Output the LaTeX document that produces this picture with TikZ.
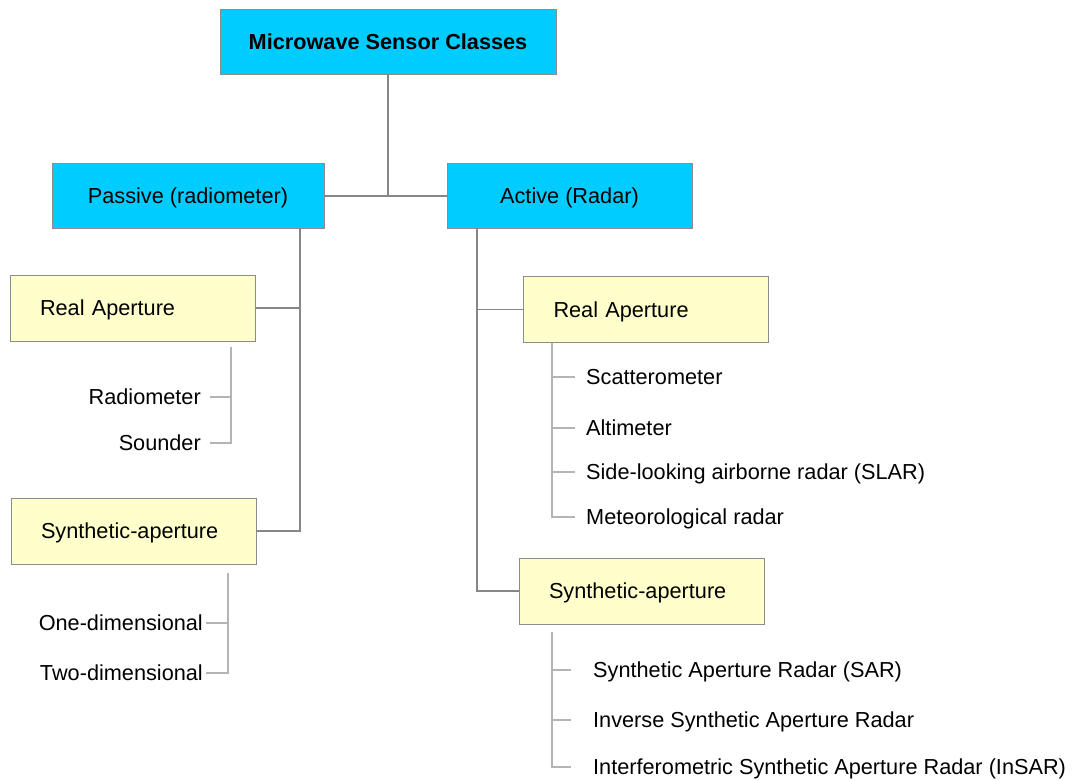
\documentclass[tikz,border=0pt]{standalone}
\usepackage{fontspec}
\setmainfont{Liberation Sans}
\usetikzlibrary{positioning}

\definecolor{boxblue}{RGB}{0,204,255}
\definecolor{boxyellow}{RGB}{255,255,204}
\definecolor{boxedge}{RGB}{140,140,140}
\definecolor{linkgray}{RGB}{135,135,135}
\definecolor{twiggray}{RGB}{180,180,180}

\begin{document}
\begin{tikzpicture}[x=1pt, y=-1pt,
    txt/.style={font=\fontsize{21.7}{26}\selectfont, text height=15.5pt, text depth=0pt},
    classbox/.style={txt, draw=boxedge, fill=boxblue, minimum height=65pt, inner sep=0pt},
    apbox/.style={txt, draw=boxedge, fill=boxyellow, minimum height=66pt, text width=185pt, inner xsep=30pt, inner ysep=0pt, align=left},
    item/.style={txt, inner sep=0pt},
    link/.style={draw=linkgray, line width=1.3pt},
    twig/.style={draw=twiggray, line width=1.1pt}
  ]
  \useasboundingbox (0,0) rectangle (1078,780);

  % Top level
  \node[classbox, minimum width=336pt, font=\fontsize{21.7}{26}\selectfont\bfseries] (top) at (388,41.5) {Microwave Sensor Classes};
  \node[classbox, minimum width=272pt] (passive) at (188,196) {Passive (radiometer)};
  \node[classbox, minimum width=245pt] (active) at (569.5,196) {Active (Radar)};
  \draw[link] (top.south) -- (top.south |- passive.east);
  \draw[link] (passive.east) -- (active.west);

  % Passive branch
  \node[apbox] (lra) at (132.5,308) {Real Aperture};
  \node[apbox] (lsa) at (133.5,531) {Synthetic-aperture};
  \coordinate (ptrunk) at (300,0);
  \draw[link] (passive.south -| ptrunk) -- (ptrunk |- lsa.east) -- (lsa.east);
  \draw[link] (lra.east) -- (lra.east -| ptrunk);

  \node[item, anchor=east] (radio) at (201,397) {Radiometer};
  \node[item, anchor=east] (sounder) at (201,443) {Sounder};
  \coordinate (lrabr) at (231,347);
  \draw[twig] (lrabr) |- ([xshift=9pt]sounder.east);
  \draw[twig] ([xshift=9pt]radio.east) -- (radio.east -| lrabr);

  \node[item, anchor=east] (onedim) at (203,623) {One-dimensional};
  \node[item, anchor=east] (twodim) at (203,673) {Two-dimensional};
  \coordinate (lsabr) at (228,573);
  \draw[twig] (lsabr) |- ([xshift=3pt]twodim.east);
  \draw[twig] ([xshift=3pt]onedim.east) -- (onedim.east -| lsabr);

  % Active branch
  \node[apbox] (rra) at (646,309.5) {Real Aperture};
  \node[apbox] (rsa) at (641.5,591) {Synthetic-aperture};
  \coordinate (atrunk) at (477,0);
  \draw[link] (active.south -| atrunk) -- (atrunk |- rsa.west) -- (rsa.west);
  \draw[link] (atrunk |- rra.west) -- (rra.west);

  \node[item, anchor=west] (scat) at (586,377) {Scatterometer};
  \node[item, anchor=west] (alti) at (586,428) {Altimeter};
  \node[item, anchor=west] (slar) at (586,472) {Side-looking airborne radar (SLAR)};
  \node[item, anchor=west] (meteo) at (586,517) {Meteorological radar};
  \coordinate (rrabr) at (552,0);
  \draw[twig] (rra.south -| rrabr) |- ([xshift=-11pt]meteo.west);
  \foreach \n in {scat, alti, slar}
    \draw[twig] (\n.west -| rrabr) -- ([xshift=-11pt]\n.west);

  \node[item, anchor=west] (sar) at (593,670) {Synthetic Aperture Radar (SAR)};
  \node[item, anchor=west] (isar) at (593,720) {Inverse Synthetic Aperture Radar};
  \node[item, anchor=west] (insar) at (593,767) {Interferometric Synthetic Aperture Radar (InSAR)};
  \coordinate (rsabr) at (552,632);
  \draw[twig] (rsabr) |- ([xshift=-22pt]insar.west);
  \foreach \n in {sar, isar}
    \draw[twig] (\n.west -| rsabr) -- ([xshift=-22pt]\n.west);

\end{tikzpicture}
\end{document}
